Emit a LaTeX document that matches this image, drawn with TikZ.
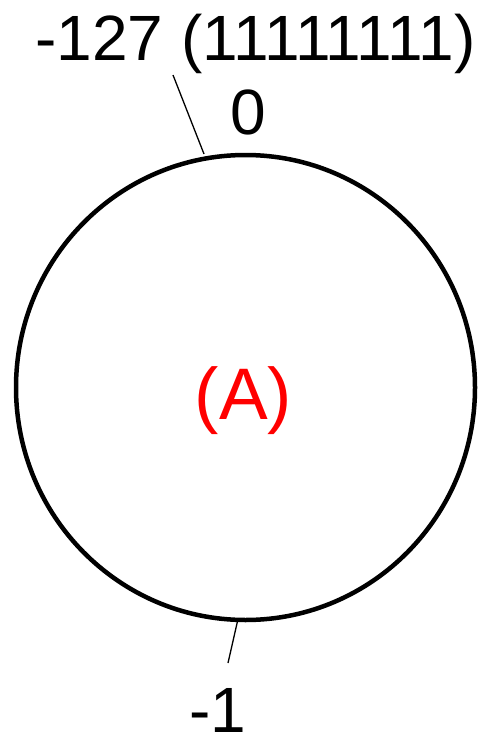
\documentclass[tikz,border=0pt]{standalone}
\usepackage{fontspec}
\setmainfont{Liberation Sans}
\begin{document}
\begin{tikzpicture}[x=1pt,y=-1pt,
  lbl/.style={inner sep=0pt,anchor=base,font=\fontsize{64}{68}\selectfont},
  tick/.style={line width=1.3pt}]
\useasboundingbox (0,0) rectangle (482,736);
\draw[line width=4.5pt] (245.5,387.5) ellipse [x radius=229.5, y radius=232.5];
\node[lbl] (top) at (255.5,60) {-127 (11111111)};
\node[lbl] (zero) at (248,134) {0};
\node[lbl,text=red,font=\fontsize{73}{78}\selectfont] (A) at (243.5,419) {(A)};
\node[lbl] (m1) at (217.5,732) {-1};
\coordinate (t1) at (173,75);
\coordinate (t2) at (204,154);
\coordinate (b1) at (238,619);
\coordinate (b2) at (228,663);
\draw[tick] (t1) -- (t2);
\draw[tick] (b1) -- (b2);
\end{tikzpicture}
\end{document}
